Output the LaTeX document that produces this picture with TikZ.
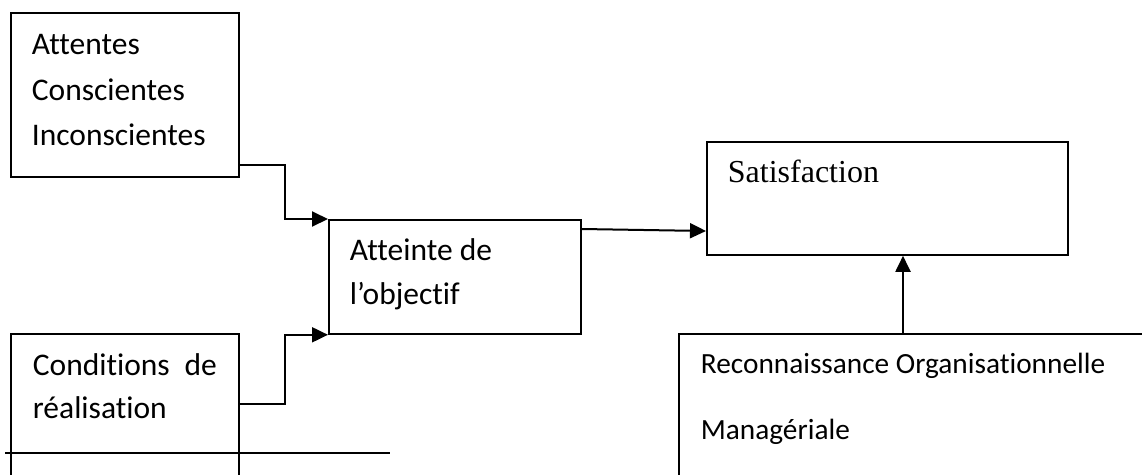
\documentclass[tikz,border=0pt]{standalone}
\usepackage{fontspec}
\setmainfont[Ligatures={NoCommon}]{Carlito}
\newfontfamily\serifbox{Liberation Serif}
\usetikzlibrary{positioning,arrows.meta,calc}

\begin{document}
\begin{tikzpicture}[x=1pt, y=-1pt, font=\fontsize{31.5}{45}\selectfont,
  box/.style={draw, line width=1.8pt, rectangle, anchor=north west, align=flush left,
    inner xsep=21pt, inner ysep=0pt, text height=42pt},
  link/.style={line width=2pt, -{Triangle[length=16pt,width=15pt]}}]
  \useasboundingbox (0,0) rectangle (1142,474);
  \clip (0,0) rectangle (1142,474);

  \node[box, minimum width=228pt, text width=186pt, text depth=122pt,
    font=\fontsize{31.5}{45.5}\selectfont] (attentes) at (10,12)
    {Attentes\\Conscientes\\Inconscientes};
  \node[box, minimum width=252pt, text width=210pt, text height=41pt, text depth=73pt,
    font=\fontsize{31.5}{44}\selectfont] (atteinte) at (328,219)
    {Atteinte de\\l’objectif};
  \node[box, minimum width=228pt, text width=184pt, text depth=158pt,
    font=\fontsize{31.5}{43}\selectfont] (conditions) at (10,333)
    {Conditions\hfill de\\réalisation};
  \node[box, minimum width=361pt, text width=319pt, text height=41pt, text depth=72pt,
    font=\serifbox\fontsize{32}{38}\selectfont] (satisfaction) at (706,141)
    {Satisfaction};
  \node[box, minimum width=520pt, text width=477pt, inner xsep=22pt, text height=40pt,
    text depth=160pt, font=\fontsize{29.3}{66}\selectfont] (reconnaissance) at (678,333)
    {Reconnaissance Organisationnelle\\Managériale};

  \draw[link] ($(attentes.south east)+(0,-13)$) -- ++(45,0) |- (atteinte.north west);
  \draw[link] ($(conditions.north east)+(0,71)$) -- ++(45,0) |- (atteinte.south west);
  \draw[link] ($(atteinte.north east)+(0,10)$) -- ($(satisfaction.north west)+(0,90)$);
  \draw[link] ($(reconnaissance.north west)+(225,0)$) coordinate (up)
    -- (up |- satisfaction.south);

  \coordinate (rule-a) at (5,453);
  \coordinate (rule-b) at (390,453);
  \draw[line width=1.8pt] (rule-a) -- (rule-b);
\end{tikzpicture}
\end{document}
